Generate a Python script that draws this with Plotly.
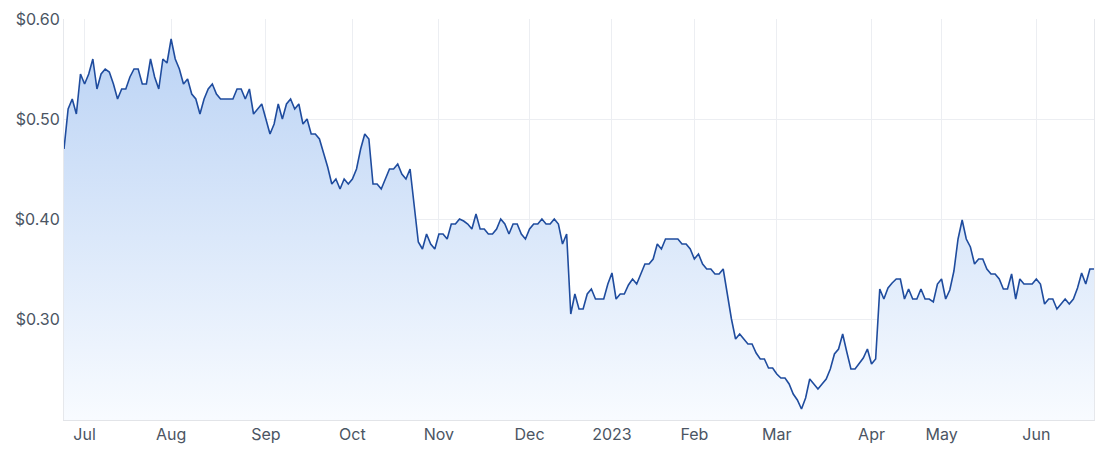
import pandas as pd
import plotly.graph_objects as go

# ASX trading calendar (weekdays minus exchange holidays)
start_date = "2022-06-24"
end_date = "2023-06-22"
holidays = ["2022-09-22", "2022-12-26", "2022-12-27", "2023-01-02", "2023-01-26",
            "2023-04-07", "2023-04-10", "2023-04-25", "2023-06-12"]

prices = [
    0.47, 0.51, 0.52, 0.505, 0.545, 0.535, 0.545, 0.56, 0.53, 0.545,
    0.55, 0.547, 0.535, 0.52, 0.53, 0.53, 0.542, 0.55, 0.55, 0.535,
    0.535, 0.56, 0.542, 0.53, 0.56, 0.556, 0.58, 0.56, 0.55, 0.535,
    0.54, 0.525, 0.52, 0.505, 0.52, 0.53, 0.535, 0.525, 0.52, 0.52,
    0.52, 0.52, 0.53, 0.53, 0.52, 0.53, 0.505, 0.51, 0.515, 0.50,
    0.485, 0.495, 0.515, 0.50, 0.515, 0.52, 0.51, 0.515, 0.495, 0.50,
    0.485, 0.485, 0.48, 0.466, 0.452, 0.435, 0.44, 0.43, 0.44, 0.435,
    0.44, 0.45, 0.47, 0.485, 0.48, 0.435, 0.435, 0.43, 0.44, 0.45,
    0.45, 0.455, 0.445, 0.44, 0.45, 0.41, 0.377, 0.37, 0.385, 0.375,
    0.37, 0.385, 0.385, 0.38, 0.395, 0.395, 0.40, 0.398, 0.395, 0.39,
    0.405, 0.39, 0.39, 0.385, 0.385, 0.39, 0.40, 0.395, 0.385, 0.395,
    0.395, 0.385, 0.38, 0.39, 0.395, 0.395, 0.40, 0.395, 0.395, 0.40,
    0.395, 0.375, 0.385, 0.305, 0.325, 0.31, 0.31, 0.325, 0.33, 0.32,
    0.32, 0.32, 0.335, 0.346, 0.32, 0.325, 0.325, 0.334, 0.34, 0.335,
    0.345, 0.355, 0.355, 0.36, 0.375, 0.37, 0.38, 0.38, 0.38, 0.38,
    0.375, 0.375, 0.37, 0.36, 0.365, 0.355, 0.35, 0.35, 0.345, 0.345,
    0.35, 0.325, 0.30, 0.28, 0.285, 0.28, 0.275, 0.275, 0.266, 0.26,
    0.26, 0.251, 0.251, 0.245, 0.241, 0.241, 0.235, 0.225, 0.219, 0.21,
    0.221, 0.24, 0.235, 0.23, 0.235, 0.24, 0.25, 0.265, 0.27, 0.285,
    0.267, 0.25, 0.25, 0.255, 0.261, 0.27, 0.255, 0.26, 0.33, 0.32,
    0.331, 0.336, 0.34, 0.34, 0.32, 0.33, 0.32, 0.32, 0.33, 0.32,
    0.32, 0.317, 0.335, 0.34, 0.32, 0.329, 0.348, 0.38, 0.399, 0.38,
    0.372, 0.355, 0.36, 0.36, 0.35, 0.345, 0.345, 0.34, 0.33, 0.33,
    0.345, 0.32, 0.34, 0.335, 0.335, 0.335, 0.34, 0.335, 0.315, 0.32,
    0.32, 0.31, 0.315, 0.32, 0.315, 0.32, 0.331, 0.346, 0.335, 0.35,
    0.35,
]

month_labels = ["Jul", "Aug", "Sep", "Oct", "Nov", "Dec", "2023",
                "Feb", "Mar", "Apr", "May", "Jun"]
y_ticks = [0.3, 0.4, 0.5, 0.6]
y_tick_labels = ["$0.30", "$0.40", "$0.50", "$0.60"]

dates = pd.bdate_range(start_date, end_date)
dates = dates[~dates.isin(pd.to_datetime(holidays))]
dates = list(dates)[:len(prices)]
idx = list(range(len(prices)))

# first trading day of each month
tick_idx = []
seen = set()
for i, d in enumerate(dates):
    key = (d.year, d.month)
    if key not in seen:
        seen.add(key)
        if i > 0:
            tick_idx.append(i)

fig = go.Figure()
fig.add_trace(go.Scatter(
    x=idx, y=prices, mode="lines",
    line=dict(color="#1f4c9e", width=1.6),
    fill="tozeroy",
    fillgradient=dict(type="vertical", start=0.2, stop=0.6,
                      colorscale=[[0, "rgb(248,251,255)"], [1, "rgb(184,209,244)"]]),
    hoverinfo="skip",
))

label_font = dict(family="Inter, Roboto, Arial, sans-serif", size=16, color="#4b5563")

fig.update_layout(
    width=1104, height=448,
    margin=dict(l=56, r=18, t=11, b=36, autoexpand=False),
    paper_bgcolor="white", plot_bgcolor="white",
    showlegend=False,
    font=label_font,
)
fig.update_xaxes(
    range=[0, len(prices) - 1],
    tickvals=tick_idx, ticktext=month_labels[:len(tick_idx)],
    showgrid=True, gridcolor="#eceef2", gridwidth=1,
    showline=True, linecolor="#e2e4e8", linewidth=1,
    ticks="", zeroline=False, automargin=False,
    tickfont=label_font,
)
fig.update_yaxes(
    range=[0.199, 0.6],
    tickvals=y_ticks, ticktext=y_tick_labels,
    showgrid=True, gridcolor="#eceef2", gridwidth=1,
    showline=True, linecolor="#e6e8ec", linewidth=1, mirror=True,
    ticks="", zeroline=False, automargin=False,
    tickfont=label_font,
)

fig.write_html("out.html")
